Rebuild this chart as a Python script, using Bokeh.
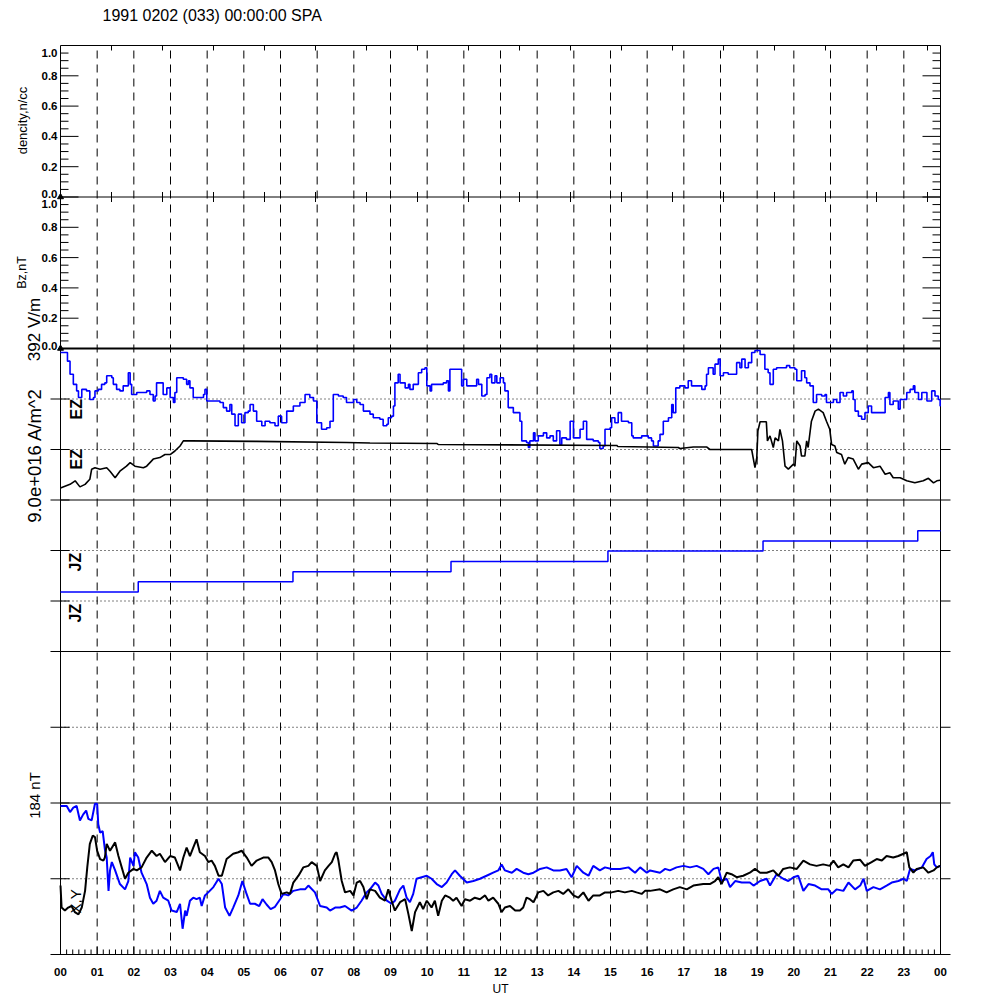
import math
from bokeh.plotting import figure
from bokeh.models import Range1d, Label
from bokeh.embed import file_html
from bokeh.resources import INLINE

# ---------------- data ----------------
title_text = "1991 0202 (033) 00:00:00 SPA"
hour_ticks = list(range(25))
hour_labels = ["00", "01", "02", "03", "04", "05", "06", "07", "08", "09", "10", "11",
               "12", "13", "14", "15", "16", "17", "18", "19", "20", "21", "22", "23", "00"]
density_ticks = [0.0, 0.2, 0.4, 0.6, 0.8, 1.0]
density_labels = ["0.0", "0.2", "0.4", "0.6", "0.8", "1.0"]
bz_ticks = [0.0, 0.2, 0.4, 0.6, 0.8, 1.0]
bz_labels = ["0.0", "0.2", "0.4", "0.6", "0.8", "1.0"]
density_pts = [(0.0, 0.0)]
bz_pts = [(0.0, 0.0)]

# EZ panel (stack-plot divisions, 0..3), time in hours UT
ez_blue = [(0.00,2.92),(0.17,2.92),(0.19,2.75),(0.26,2.49),(0.35,2.29),(0.44,2.16),(0.49,2.03),(0.58,2.19),(0.71,2.16),(0.80,1.99),(0.90,2.03),(0.94,2.16),(1.03,2.19),(1.12,2.29),(1.21,2.32),(1.26,2.46),(1.40,2.42),(1.44,2.29),(1.53,2.19),(1.62,2.16),(1.71,2.26),(1.85,2.52),(1.90,2.29),(1.94,2.09),(2.08,2.13),(2.26,2.13),(2.35,2.16),(2.44,2.09),(2.53,1.96),(2.58,2.06),(2.62,2.32),(2.71,2.32),(2.80,2.09),(2.90,2.22),(2.99,2.03),(3.08,1.93),(3.12,2.13),(3.17,2.42),(3.35,2.39),(3.44,2.29),(3.49,2.36),(3.53,2.22),(3.62,2.03),(3.80,2.03),(3.90,2.09),(3.94,2.19),(3.99,1.96),(4.17,1.96),(4.35,1.93),(4.44,1.83),(4.53,1.76),(4.62,1.89),(4.67,1.70),(4.76,1.47),(4.85,1.70),(4.94,1.53),(5.03,1.73),(5.12,1.76),(5.17,1.89),(5.26,1.76),(5.35,1.56),(5.44,1.56),(5.49,1.47),(5.58,1.56),(5.71,1.53),(5.85,1.47),(5.94,1.66),(6.03,1.53),(6.17,1.76),(6.35,1.86),(6.53,1.93),(6.67,2.09),(6.80,2.03),(6.90,1.96),(6.99,1.53),(7.12,1.40),(7.26,1.43),(7.35,1.56),(7.44,2.09),(7.58,2.06),(7.71,2.03),(7.80,1.93),(7.99,1.99),(8.08,1.93),
           (8.17,1.89),(8.26,1.76),(8.44,1.70),(8.53,1.63),(8.71,1.60),(8.80,1.47),(8.90,1.50),(8.94,1.63),(9.03,1.66),(9.08,1.86),(9.12,2.32),(9.21,2.49),(9.26,2.32),(9.40,2.22),(9.49,2.29),(9.53,2.19),(9.62,2.29),(9.71,2.29),(9.76,2.52),(9.85,2.59),(9.94,2.62),(9.99,2.26),(10.08,2.16),(10.12,2.29),(10.26,2.29),(10.44,2.32),(10.53,2.36),(10.58,2.16),(10.62,2.59),(10.85,2.59),(10.94,2.26),(10.99,2.39),(11.08,2.26),(11.30,2.26),(11.35,2.39),(11.40,2.29),(11.49,2.06),(11.58,2.09),(11.63,2.42),(11.71,2.49),(11.76,2.32),(11.85,2.46),(11.90,2.32),(11.99,2.42),(12.08,2.32),(12.12,2.16),(12.21,1.83),(12.35,1.73),(12.44,1.73),(12.53,1.56),(12.58,1.17),(12.71,1.14),(12.76,1.04),(12.80,1.17),(12.90,1.33),(12.94,1.17),(13.03,1.27),(13.17,1.33),(13.26,1.23),(13.35,1.27),(13.44,1.17),(13.53,1.37),(13.62,1.10),(13.67,1.23),(13.80,1.20),(13.90,1.56),(13.99,1.23),(14.17,1.40),(14.26,1.56),(14.35,1.20),(14.53,1.17),(14.67,1.14),(14.71,1.02),(14.80,1.07),(14.85,1.40),(14.99,1.43),(15.03,1.63),(15.12,1.53),(15.21,1.73),(15.30,1.56),(15.49,1.53),(15.58,1.27),(15.62,1.23),(15.85,1.27),(16.03,1.23),(16.12,1.17),(16.17,1.07),(16.30,1.17),
           (16.35,1.30),(16.44,1.56),(16.58,1.63),(16.67,1.89),(16.71,1.73),(16.78,2.22),(16.89,2.26),(17.03,2.22),(17.12,2.36),(17.21,2.26),(17.35,2.26),(17.49,2.19),(17.58,2.26),(17.62,2.49),(17.67,2.62),(17.80,2.49),(17.85,2.69),(17.94,2.79),(17.99,2.46),(18.08,2.52),(18.21,2.49),(18.40,2.49),(18.44,2.72),(18.53,2.62),(18.58,2.79),(18.67,2.62),(18.76,2.72),(18.85,2.92),(18.94,2.96),(19.08,2.88),(19.17,2.88),(19.21,2.59),(19.30,2.52),(19.35,2.29),(19.44,2.59),(19.53,2.62),(19.71,2.62),(19.80,2.66),(19.89,2.62),(20.03,2.59),(20.08,2.36),(20.21,2.56),(20.30,2.42),(20.35,2.32),(20.44,2.26),(20.53,1.93),(20.62,2.09),(20.76,2.06),(20.85,2.09),(20.89,1.93),(21.08,1.99),(21.17,1.93),(21.26,2.13),(21.35,2.06),(21.44,2.13),(21.58,2.16),(21.62,1.99),(21.67,1.76),(21.76,1.66),(21.85,1.60),(21.94,1.73),(22.03,1.86),(22.12,1.73),(22.26,1.73),(22.40,1.73),(22.49,2.03),(22.58,2.13),(22.62,1.89),(22.71,1.96),(22.85,1.80),(22.90,1.99),(23.03,1.99),(23.08,2.13),(23.17,2.19),(23.26,2.26),(23.30,2.13),(23.40,1.99),(23.49,2.13),(23.63,1.96),(23.76,2.16),(23.85,2.06),(23.94,1.99),(23.99,1.86),(24.00,1.86)]

ez_black = [(0.00,0.24),(0.26,0.31),(0.40,0.38),(0.53,0.26),(0.67,0.31),(0.80,0.41),(0.85,0.61),(0.94,0.64),(1.08,0.61),(1.26,0.64),(1.35,0.57),(1.49,0.44),(1.62,0.57),(1.80,0.67),(1.90,0.74),(2.03,0.67),(2.26,0.64),(2.35,0.67),(2.53,0.81),(2.71,0.84),(2.85,0.90),(2.99,0.90),(3.12,0.97),(3.26,1.07),(3.35,1.17),(3.53,1.17),(5.35,1.16),(7.80,1.14),(8.44,1.13),(10.26,1.12),(10.30,1.10),(15.17,1.08),(15.20,1.06),(16.85,1.04),(16.89,1.02),(17.26,1.05),(17.62,1.05),(17.71,1.00),(18.85,1.00),(18.89,0.84),(18.94,0.64),(18.99,0.84),(19.02,1.37),(19.08,1.55),(19.25,1.55),(19.28,1.17),(19.35,1.27),(19.44,1.04),(19.49,1.23),(19.58,1.17),(19.62,1.40),(19.69,1.17),(19.76,0.67),(19.85,0.61),(19.99,0.71),(20.03,0.67),(20.08,1.17),(20.17,1.07),(20.21,0.87),(20.30,0.87),(20.35,1.17),(20.39,1.04),(20.48,1.56),(20.58,1.76),(20.67,1.80),(20.80,1.73),(20.89,1.56),(20.98,1.40),(21.03,1.10),(21.12,1.07),(21.17,0.94),(21.30,0.90),(21.39,0.71),(21.48,0.84),(21.62,0.81),(21.76,0.61),(21.85,0.71),(22.03,0.74),(22.17,0.64),(22.35,0.67),(22.49,0.51),(22.62,0.54),(22.71,0.44),(22.90,0.44),(23.08,0.38),(23.30,0.34),(23.53,0.38),(23.67,0.43),(23.81,0.34),(23.90,0.38),(23.99,0.39)]

# JZ panel (divisions, 0..3)
jz_blue = [(0.00,1.18),(2.12,1.38),(6.34,1.58),(10.65,1.78),(14.93,1.99),(19.16,2.19),(23.38,2.39),(24.00,2.39)]

# X,Y panel (divisions of 184 nT, -1..1)
xy_black = [(0.00,-0.09),(0.03,-0.38),(0.12,-0.42),(0.21,-0.38),(0.30,-0.36),(0.39,-0.44),(0.49,-0.47),(0.58,-0.38),(0.67,-0.16),(0.73,0.15),(0.80,0.46),(0.88,0.57),(0.94,0.55),(1.00,0.37),(1.08,0.26),(1.17,0.24),(1.21,0.28),(1.26,0.46),(1.35,0.37),(1.49,0.48),(1.58,0.30),(1.67,0.15),(1.76,0.00),(1.85,0.08),(1.99,0.13),(2.08,0.11),(2.21,0.15),(2.35,0.28),(2.49,0.37),(2.62,0.30),(2.71,0.33),(2.85,0.22),(2.99,0.30),(3.12,0.28),(3.26,0.11),(3.35,0.28),(3.44,0.41),(3.53,0.30),(3.62,0.41),(3.71,0.52),(3.80,0.35),(3.94,0.30),(4.03,0.22),(4.12,0.24),(4.21,0.17),(4.31,0.04),(4.40,0.04),(4.53,0.26),(4.71,0.33),(4.85,0.35),(4.94,0.37),(5.08,0.28),(5.21,0.17),(5.35,0.24),(5.53,0.28),(5.67,0.28),(5.76,0.22),(5.85,0.11),(5.94,-0.07),(6.03,-0.20),(6.17,-0.18),(6.26,-0.20),(6.35,-0.05),(6.49,0.04),(6.62,0.15),(6.76,0.17),(6.85,0.22),(6.99,0.17),
            (7.08,-0.03),(7.21,0.11),(7.31,0.17),(7.40,0.22),(7.49,0.33),(7.53,0.35),(7.58,0.24),(7.67,-0.03),(7.76,-0.18),(7.90,-0.16),(7.99,-0.22),(8.08,-0.05),(8.17,-0.03),(8.26,-0.11),(8.35,-0.27),(8.44,-0.14),(8.58,-0.16),(8.71,-0.25),(8.85,-0.29),(8.94,-0.14),(9.03,-0.29),(9.12,-0.42),(9.26,-0.31),(9.40,-0.27),(9.49,-0.47),(9.58,-0.69),(9.67,-0.44),(9.80,-0.31),(9.89,-0.40),(9.99,-0.29),(10.12,-0.38),(10.21,-0.29),(10.30,-0.49),(10.40,-0.29),(10.49,-0.22),(10.62,-0.25),(10.71,-0.29),(10.80,-0.25),(10.94,-0.36),(11.03,-0.27),(11.17,-0.29),(11.30,-0.25),(11.44,-0.27),(11.58,-0.22),(11.67,-0.29),(11.80,-0.25),(11.94,-0.33),(12.03,-0.44),(12.12,-0.38),(12.26,-0.36),(12.40,-0.42),(12.53,-0.42),(12.62,-0.38),(12.71,-0.25),(12.80,-0.27),(12.90,-0.31),(13.03,-0.18),(13.17,-0.16),(13.30,-0.22),(13.44,-0.18),(13.58,-0.16),(13.71,-0.20),(13.85,-0.14),(13.99,-0.22),(14.12,-0.25),(14.26,-0.18),(14.40,-0.29),(14.53,-0.22),(14.71,-0.22),(14.85,-0.18),(15.03,-0.18),(15.21,-0.16),(15.39,-0.18),(15.58,-0.16),(15.71,-0.18),(15.85,-0.20),(15.94,-0.16),(16.08,-0.16),
            (16.35,-0.14),(16.53,-0.18),(16.71,-0.14),(16.89,-0.11),(17.08,-0.14),(17.26,-0.09),(17.53,-0.07),(17.71,-0.07),(17.85,-0.03),(17.94,0.02),(18.03,-0.07),(18.17,0.08),(18.30,0.06),(18.44,0.02),(18.62,0.04),(18.80,0.08),(18.94,0.13),(19.08,0.08),(19.26,0.08),(19.44,0.11),(19.58,0.04),(19.71,0.13),(19.89,0.15),(20.08,0.13),(20.26,0.24),(20.44,0.19),(20.62,0.17),(20.80,0.19),(20.98,0.17),(21.08,0.24),(21.21,0.15),(21.35,0.19),(21.49,0.15),(21.62,0.24),(21.81,0.25),(21.94,0.17),(22.12,0.22),(22.26,0.26),(22.40,0.24),(22.53,0.30),(22.71,0.28),(22.85,0.30),(22.99,0.33),(23.08,0.35),(23.15,0.15),(23.26,0.08),(23.35,0.13),(23.53,0.15),(23.67,0.08),(23.81,0.11),(23.90,0.15),(23.99,0.17)]

xy_blue = [(0.00,0.96),(0.17,0.96),(0.26,0.88),(0.35,0.94),(0.44,0.96),(0.53,0.77),(0.62,0.85),(0.70,0.90),(0.76,0.79),(0.85,0.77),(0.94,0.99),(1.00,0.99),(1.03,0.72),(1.08,0.61),(1.15,0.63),(1.21,0.39),(1.26,0.28),(1.31,-0.16),(1.35,0.11),(1.40,0.22),(1.49,0.11),(1.62,-0.07),(1.76,-0.14),(1.85,-0.03),(1.90,0.28),(1.99,0.17),(2.03,0.35),(2.12,0.28),(2.21,0.08),(2.35,-0.07),(2.44,-0.25),(2.53,-0.33),(2.62,-0.29),(2.71,-0.16),(2.80,-0.25),(2.94,-0.29),(3.03,-0.42),(3.17,-0.44),(3.26,-0.33),(3.33,-0.66),(3.40,-0.42),(3.44,-0.49),(3.53,-0.29),(3.62,-0.25),(3.71,-0.27),(3.80,-0.25),(3.85,-0.36),(3.94,-0.22),(4.03,-0.18),(4.17,-0.11),(4.31,0.00),(4.40,-0.07),(4.49,-0.38),(4.61,-0.49),(4.71,-0.38),(4.85,-0.22),(4.96,-0.03),(5.06,-0.18),(5.17,-0.33),(5.30,-0.33),(5.42,-0.36),(5.51,-0.27),(5.62,-0.34),(5.73,-0.40),(5.85,-0.37),(5.99,-0.27),(6.08,-0.20),(6.21,-0.22),(6.35,-0.16),(6.53,-0.14),(6.67,-0.14),(6.76,-0.09),(6.94,-0.18),
           (7.08,-0.36),(7.26,-0.38),(7.35,-0.42),(7.49,-0.38),(7.62,-0.38),(7.76,-0.36),(7.94,-0.42),(8.08,-0.38),(8.21,-0.29),(8.35,-0.18),(8.44,-0.14),(8.58,-0.05),(8.67,-0.09),(8.76,-0.20),(8.90,-0.29),(9.03,-0.33),(9.12,-0.29),(9.26,-0.14),(9.35,-0.09),(9.44,-0.25),(9.53,-0.31),(9.62,-0.20),(9.71,0.00),(9.85,0.02),(9.99,0.04),(10.12,0.00),(10.26,-0.07),(10.40,-0.11),(10.53,-0.05),(10.67,0.06),(10.76,0.11),(10.89,0.04),(11.08,-0.05),(11.26,-0.03),(11.44,0.00),(11.62,0.04),(11.80,0.08),(11.94,0.11),(12.03,0.19),(12.12,0.11),(12.31,0.08),(12.44,0.13),(12.62,0.08),(12.76,0.06),(12.90,0.08),(13.08,0.13),(13.26,0.15),(13.44,0.11),(13.62,0.11),(13.80,0.13),(13.94,0.02),(14.08,0.17),(14.26,0.08),(14.40,0.04),(14.53,0.17),(14.71,0.11),(14.85,0.15),(15.03,0.13),(15.26,0.13),(15.49,0.15),(15.67,0.08),(15.81,0.15),(15.99,0.08),(16.08,0.11),
           (16.35,0.08),(16.49,0.13),(16.62,0.11),(16.80,0.15),(16.99,0.17),(17.17,0.15),(17.35,0.17),(17.53,0.13),(17.67,0.06),(17.81,0.13),(17.94,0.15),(18.03,-0.03),(18.17,0.00),(18.26,-0.11),(18.40,-0.03),(18.58,-0.05),(18.80,-0.05),(18.90,-0.09),(19.08,-0.03),(19.26,0.00),(19.35,-0.09),(19.53,0.06),(19.71,0.00),(19.85,-0.03),(19.99,0.02),(20.12,0.04),(20.26,-0.16),(20.40,-0.07),(20.58,-0.09),(20.76,-0.14),(20.94,-0.14),(21.03,-0.20),(21.17,-0.14),(21.35,-0.16),(21.49,-0.05),(21.67,-0.14),(21.81,-0.09),(21.90,0.00),(21.99,-0.16),(22.17,-0.11),(22.35,-0.14),(22.53,-0.09),(22.67,-0.05),(22.85,-0.03),(22.99,0.00),(23.08,-0.03),(23.17,0.13),(23.31,0.11),(23.49,0.15),(23.62,0.26),(23.73,0.30),(23.79,0.35),(23.83,0.19),(23.90,0.15),(23.99,0.17)]

# ---------------- layout ----------------
FONT = "Liberation Sans"
BLUE = "#0000ff"
N_BANDS = 6
W, H = 984, 996
PLOT_LEFT, PLOT_TOP = 60, 45          # canvas px of the panel box corner
PLOT_W, PLOT_H = 880, 909
PXH = PLOT_W / 24.0                   # px per hour
PXB = PLOT_H / N_BANDS                # px per band

X0, X1 = -PLOT_LEFT / PXH, (W - PLOT_LEFT) / PXH
Y1 = N_BANDS + PLOT_TOP / PXB
Y0 = N_BANDS - (H - PLOT_TOP) / PXB


def band_range(lo, a, b):
    """Extra y-range so that data [a, b] fills the band [lo, lo+1] of the main range."""
    s = b - a
    return Range1d(start=a + (Y0 - lo) * s, end=a + (Y1 - lo) * s)


def px_x(px):
    return (px - PLOT_LEFT) / PXH


def px_y(py):
    return N_BANDS - (py - PLOT_TOP) / PXB


p = figure(width=W, height=H, x_range=Range1d(X0, X1), y_range=Range1d(Y0, Y1),
           output_backend="svg", toolbar_location=None, title=None,
           x_axis_location=None, y_axis_location=None, min_border=0)
p.min_border_left = p.min_border_right = p.min_border_top = p.min_border_bottom = 0
p.background_fill_color = "white"
p.border_fill_color = "white"
p.outline_line_color = None
p.grid.visible = False

p.extra_y_ranges = {
    "dens": band_range(5, 0, 1),
    "bz": band_range(4, 0, 1),
    "ez": band_range(3, 0, 3),
    "jz": band_range(2, 0, 3),
    "xy": band_range(0, -1, 1),
}

# dashed hour lines
hrs = hour_ticks[1:-1]
p.segment(x0=hrs, y0=[0] * len(hrs), x1=hrs, y1=[N_BANDS] * len(hrs),
          line_color="black", line_width=1, line_dash="8 6")

# dotted reference lines
def hline(y, rng="default", **kw):
    p.segment(x0=[0] * len(y), y0=y, x1=[24] * len(y), y1=y, y_range_name=rng, **kw)

hline([1, 2], "ez", line_color="black", line_width=1, line_dash="1 3")
hline([1, 2], "jz", line_color="black", line_width=1, line_dash="1 3")
hline([1.5], line_color="black", line_width=1, line_dash="1 3")
hline([0], "xy", line_color="black", line_width=1, line_dash="1 3")

# panel boundaries and box
hline([1, 2, 3, 5], line_color="black", line_width=1)
hline([4], line_color="black", line_width=2)
p.quad(left=[0], right=[24], bottom=[0], top=[N_BANDS], fill_color=None,
       line_color="black", line_width=1)

# ticks
def hticks(ys, x_from, x_to):
    p.segment(x0=[x_from] * len(ys), y0=ys, x1=[x_to] * len(ys), y1=ys,
              line_color="black", line_width=1)

div_ticks = [0, 0.5, 1, 1.5, 2, 2 + 1 / 3, 2 + 2 / 3, 3, 3 + 1 / 3, 3 + 2 / 3]
top_major = [4 + v for v in bz_ticks[1:]] + [5 + v for v in density_ticks[1:-1]]
top_minor = [4 + i * 0.05 for i in range(1, 40) if i % 4 != 0]
hticks(div_ticks, -10 / PXH, 9 / PXH)
hticks(div_ticks, 24, 24 + 10 / PXH)
hticks(top_major, 0, 18 / PXH)
hticks(top_major, 24 - 18 / PXH, 24)
hticks(top_minor, 0, 8 / PXH)
hticks(top_minor, 24 - 8 / PXH, 24)

minor_h = [i / 6 for i in range(1, 144) if i % 6 != 0]
p.segment(x0=hour_ticks, y0=[0] * 25, x1=hour_ticks, y1=[8 / PXB] * 25, line_color="black")
p.segment(x0=minor_h, y0=[0] * len(minor_h), x1=minor_h, y1=[5 / PXB] * len(minor_h),
          line_color="black")

# short ticks of the top panel's own time axis (its spacing differs from the hour grid)
top_axis_step = 51 / PXH
top_axis = [k * top_axis_step for k in range(1, 18)]
p.segment(x0=top_axis, y0=[N_BANDS] * len(top_axis), x1=top_axis,
          y1=[N_BANDS - 5 / PXB] * len(top_axis), line_color="black")
p.segment(x0=top_axis, y0=[5 - 5 / PXB] * len(top_axis), x1=top_axis,
          y1=[5 + 5 / PXB] * len(top_axis), line_color="black")

# traces
t, v = zip(*density_pts)
p.scatter(list(t), list(v), y_range_name="dens", marker="triangle", size=6, color="black")
t, v = zip(*bz_pts)
p.scatter(list(t), list(v), y_range_name="bz", marker="triangle", size=6, color="black")
t, v = zip(*ez_blue)
p.step(list(t), list(v), mode="after", y_range_name="ez", line_color=BLUE, line_width=1.6)
t, v = zip(*ez_black)
p.line(list(t), list(v), y_range_name="ez", line_color="black", line_width=1.6)
t, v = zip(*jz_blue)
p.step(list(t), list(v), mode="after", y_range_name="jz", line_color=BLUE, line_width=1.5)
t, v = zip(*xy_blue)
p.line(list(t), list(v), y_range_name="xy", line_color=BLUE, line_width=2)
t, v = zip(*xy_black)
p.line(list(t), list(v), y_range_name="xy", line_color="black", line_width=2)


def add_text(text, x, y, size, angle=0.0, align="center", baseline="middle",
             style="normal", y_off=0):
    p.add_layout(Label(x=x, y=y, text=text, angle=angle,
                       text_align=align, text_baseline=baseline, text_font=FONT,
                       text_font_size=f"{size}px", text_font_style=style,
                       text_color="black", y_offset=y_off))


# hour labels
for h, lab in zip(hour_ticks, hour_labels):
    add_text(lab, h, px_y(971), 11.5, style="bold")

# tick labels of the two top panels
for base, ticks, labels in ((5, density_ticks, density_labels), (4, bz_ticks, bz_labels)):
    for tv, lab in zip(ticks, labels):
        off = -7 if tv == 1.0 else (3 if tv == 0.0 else 0)
        add_text(lab, px_x(57), base + tv, 11.5, align="right", style="bold", y_off=off)

# titles and panel labels
add_text(title_text, px_x(102), px_y(15), 16, align="left")
add_text("UT", 12, px_y(988), 12)
rot = math.pi / 2
add_text("dencity,n/cc", px_x(22), px_y(120), 13, angle=rot)
add_text("Bz,nT", px_x(21), px_y(272), 12.5, angle=rot)
add_text("392 V/m", px_x(34), px_y(329), 17, angle=rot)
add_text("9.0e+016 A/m^2", px_x(34), px_y(455), 18.5, angle=rot)
add_text("184 nT", px_x(34), px_y(795), 15, angle=rot)
add_text("EZ", px_x(67), px_y(419), 16, angle=rot, align="left", baseline="top", style="bold")
add_text("EZ", px_x(67), px_y(469), 16, angle=rot, align="left", baseline="top", style="bold")
add_text("JZ", px_x(66), px_y(571), 16, angle=rot, align="left", baseline="top", style="bold")
add_text("JZ", px_x(66), px_y(622), 16, angle=rot, align="left", baseline="top", style="bold")
add_text("X,Y", px_x(66), px_y(913), 15, angle=rot, align="left", baseline="top")

open("out.html", "w").write(file_html(p, INLINE))
